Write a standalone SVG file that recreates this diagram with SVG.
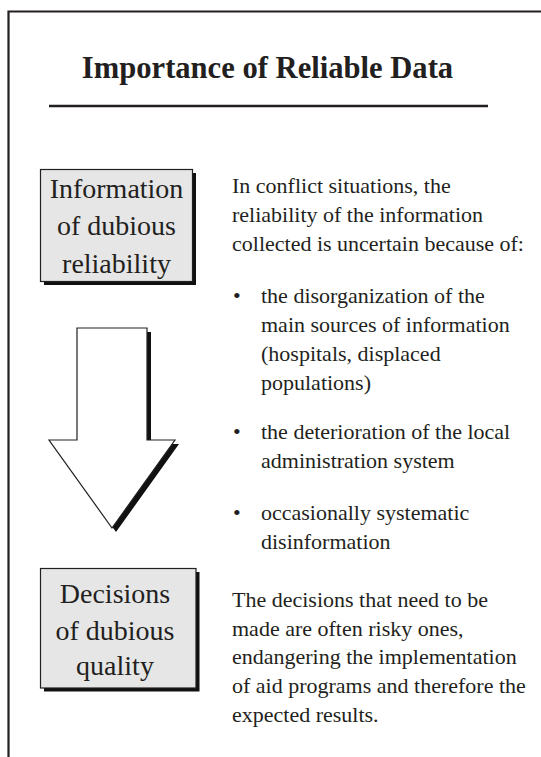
<svg xmlns="http://www.w3.org/2000/svg" width="541" height="757" viewBox="0 0 541 757">
  <defs>
    <!-- box and arrow outlines reused for shadow + face -->
    <rect id="info-shape" width="152" height="112"/>
    <rect id="decision-shape" width="155.5" height="119.5"/>
    <polygon id="arrow-shape" points="77,328 147,328 147,440 175,440 112,528 49,440 77,440"/>
  </defs>

  <rect width="541" height="757" fill="#ffffff"/>

  <!-- page frame (open on the right and bottom) -->
  <path d="M8.5 757 V11.5 H541" fill="none" stroke="#231f20" stroke-width="2.2"/>

  <g font-family="Liberation Serif, serif" fill="#231f20">
    <!-- heading -->
    <g id="title">
      <text x="267.5" y="78" font-size="30.6" font-weight="bold" text-anchor="middle">Importance of Reliable Data</text>
      <line x1="49" y1="106" x2="488" y2="106" stroke="#231f20" stroke-width="2.6"/>
    </g>

    <!-- upper box -->
    <g id="info-box">
      <use href="#info-shape" x="44" y="173" fill="#111"/>
      <use href="#info-shape" x="40.5" y="169.5" fill="#e6e6e6" stroke="#231f20" stroke-width="1.2"/>
      <g font-size="28" text-anchor="middle">
        <text x="116.5" y="198">Information</text>
        <text x="116.5" y="235">of dubious</text>
        <text x="116.5" y="273">reliability</text>
      </g>
    </g>

    <!-- downward arrow between the boxes -->
    <g id="connectors">
      <use href="#arrow-shape" x="4" y="4" fill="#111"/>
      <use href="#arrow-shape" fill="#ffffff" stroke="#231f20" stroke-width="1.2"/>
    </g>

    <!-- lower box -->
    <g id="decision-box">
      <use href="#decision-shape" x="44" y="572" fill="#111"/>
      <use href="#decision-shape" x="40.5" y="568.5" fill="#e6e6e6" stroke="#231f20" stroke-width="1.2"/>
      <g font-size="28" text-anchor="middle">
        <text x="115" y="603">Decisions</text>
        <text x="115" y="640">of dubious</text>
        <text x="115" y="675">quality</text>
      </g>
    </g>

    <!-- explanatory text -->
    <g id="causes" font-size="22">
      <text x="232" y="193">In conflict situations, the</text>
      <text x="232" y="222">reliability of the information</text>
      <text x="232" y="251">collected is uncertain because of:</text>

      <text x="233" y="303">•</text>
      <text x="261" y="303">the disorganization of the</text>
      <text x="261" y="332">main sources of information</text>
      <text x="261" y="361">(hospitals, displaced</text>
      <text x="261" y="390">populations)</text>

      <text x="233" y="439">•</text>
      <text x="261" y="439">the deterioration of the local</text>
      <text x="261" y="468">administration system</text>

      <text x="233" y="520">•</text>
      <text x="261" y="520">occasionally systematic</text>
      <text x="261" y="549">disinformation</text>
    </g>

    <g id="consequences" font-size="22">
      <text x="232" y="607">The decisions that need to be</text>
      <text x="232" y="636">made are often risky ones,</text>
      <text x="232" y="664">endangering the implementation</text>
      <text x="232" y="693">of aid programs and therefore the</text>
      <text x="232" y="722">expected results.</text>
    </g>
  </g>
</svg>
